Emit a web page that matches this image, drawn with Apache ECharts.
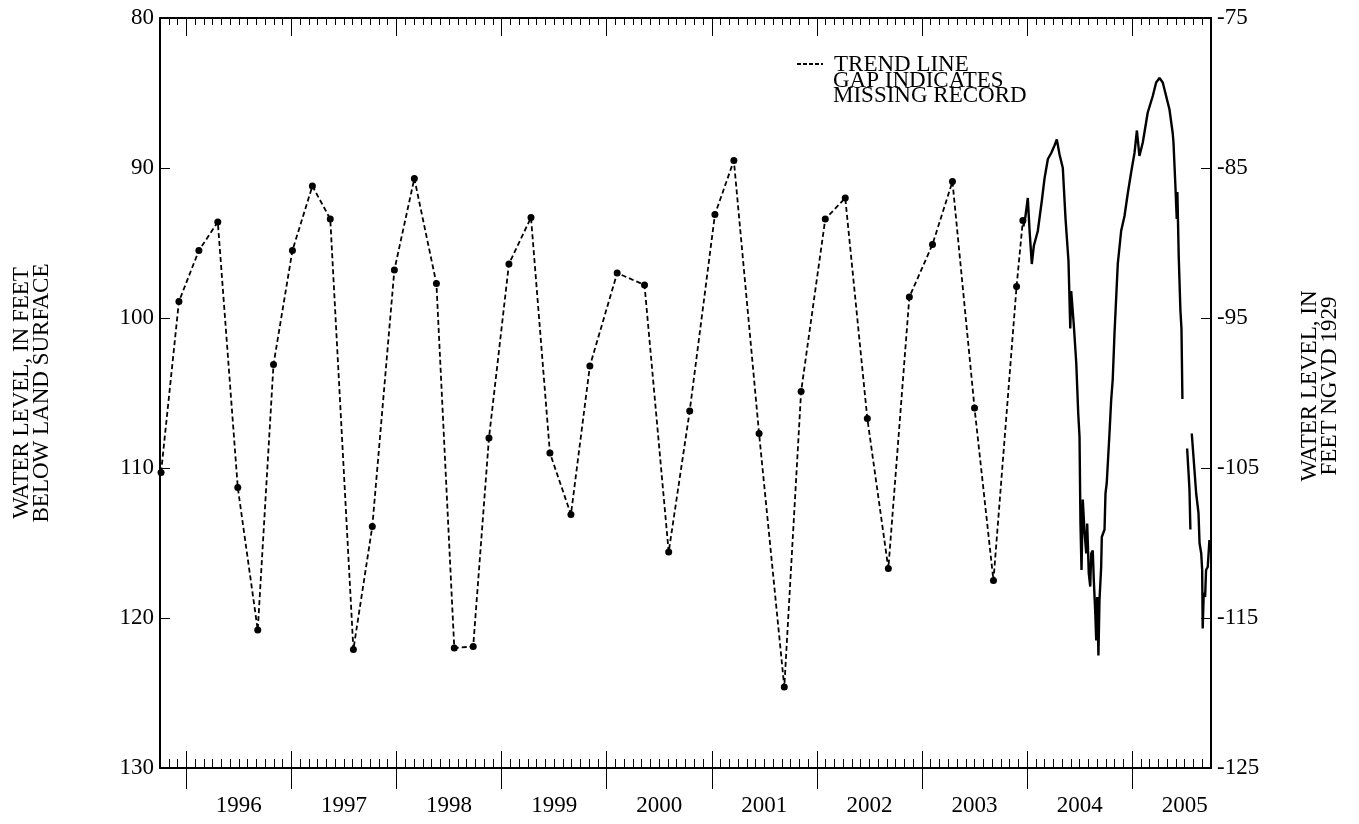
<!DOCTYPE html>
<html>
<head>
<meta charset="utf-8">
<script src="https://cdn.jsdelivr.net/npm/echarts@6/dist/echarts.min.js"></script>
<style>
  html, body { margin: 0; padding: 0; background: #fff; }
  #chart { width: 1359px; height: 824px; }
</style>
</head>
<body>
<div id="chart"></div>
<script>
// Water year span shown on the x axis (decimal years: Oct 1995 - Sep 2005)
const xStart = 1995.75;
const xEnd = 2005.75;

// Calendar-year labels, placed at mid-year
const yearLabels = ['1996', '1997', '1998', '1999', '2000', '2001', '2002', '2003', '2004', '2005'];

// Left axis: depth to water, feet below land surface (inverted)
const depthTicks = [80, 90, 100, 110, 120, 130];
// Right axis: water level, feet NGVD 1929
const elevTicks = [-75, -85, -95, -105, -115, -125];

// Periodic measurements joined by the dashed trend line
const trendYears = [
  1995.76, 1995.93, 1996.12, 1996.30, 1996.49, 1996.68, 1996.83,
  1997.01, 1997.20, 1997.37, 1997.59, 1997.77, 1997.98,
  1998.17, 1998.38, 1998.55, 1998.73, 1998.88,
  1999.07, 1999.28, 1999.46, 1999.66, 1999.84,
  2000.10, 2000.36, 2000.59, 2000.79,
  2001.03, 2001.21, 2001.45, 2001.69, 2001.85,
  2002.08, 2002.27, 2002.48, 2002.68, 2002.88,
  2003.10, 2003.29, 2003.50, 2003.68, 2003.90, 2003.96
];
const trendLevels = [
  110.3, 98.9, 95.5, 93.6, 111.3, 120.8, 103.1,
  95.5, 91.2, 93.4, 122.1, 113.9, 96.8,
  90.7, 97.7, 122.0, 121.9, 108.0,
  96.4, 93.3, 109.0, 113.1, 103.2,
  97.0, 97.8, 115.6, 106.2,
  93.1, 89.5, 107.7, 124.6, 104.9,
  93.4, 92.0, 106.7, 116.7, 98.6,
  95.1, 90.9, 106.0, 117.5, 97.9, 93.5
];

// Continuous record; null marks a gap (missing record)
const recordYears = [
  2003.964, 2003.983, 2004.007, 2004.024, 2004.045, 2004.064, 2004.102, 2004.140,
  2004.166, 2004.198, 2004.230, 2004.261, 2004.283, 2004.309, 2004.340, 2004.366,
  2004.394, 2004.411, 2004.420, 2004.445, 2004.468, 2004.487, 2004.499, 2004.508,
  2004.518, 2004.530, 2004.547, 2004.563, 2004.572, 2004.587, 2004.601, 2004.610,
  2004.625, 2004.635, 2004.648, 2004.658, 2004.667, 2004.679, 2004.689, 2004.705,
  2004.711, 2004.737, 2004.746, 2004.758, 2004.784, 2004.800, 2004.815, 2004.832,
  2004.863, 2004.895, 2004.927, 2004.958, 2004.990, 2005.022, 2005.045, 2005.069,
  2005.101, 2005.148, 2005.196, 2005.228, 2005.260, 2005.275, 2005.291, 2005.323,
  2005.355, 2005.386, 2005.393, 2005.412, 2005.424, 2005.430, 2005.443, 2005.459,
  2005.469, 2005.478,
  2005.500,
  2005.523, 2005.545, 2005.554,
  2005.560,
  2005.567, 2005.586, 2005.609, 2005.631, 2005.641, 2005.657, 2005.666, 2005.671,
  2005.681, 2005.694, 2005.703, 2005.719, 2005.735
];
const recordLevels = [
  93.9, 93.3, 92.0, 94.2, 96.4, 95.2, 94.2, 92.2,
  90.7, 89.4, 89.0, 88.5, 88.1, 89.1, 90.0, 93.4,
  96.2, 100.7, 98.2, 100.5, 103.0, 106.4, 107.9, 113.7,
  116.8, 112.1, 114.3, 115.7, 113.7, 117.0, 117.9, 115.7,
  115.5, 117.5, 119.5, 121.5, 118.6, 122.5, 118.8, 116.6,
  114.6, 114.1, 111.7, 111.0, 107.7, 105.5, 104.1, 101.0,
  96.4, 94.2, 93.2, 91.7, 90.3, 89.0, 87.5, 89.2,
  88.3, 86.3, 85.2, 84.3, 84.0, 84.1, 84.3, 85.2,
  86.1, 87.7, 88.3, 91.3, 93.4, 91.6, 95.9, 99.5,
  100.7, 105.4,
  null,
  108.7, 111.4, 114.1,
  null,
  107.7, 109.5, 111.7, 113.0, 115.0, 115.7, 116.8, 120.7,
  118.3, 118.6, 116.8, 116.6, 114.8
];

const FONT = '"Liberation Serif", "Times New Roman", serif';
const INK = '#000';
const TEXT_SIZE = 23;

// Tick positions: monthly minor ticks, January major ticks, mid-year labels
const monthTicks = [];
for (let k = 0; k <= 120; k++) monthTicks.push(xStart + k / 12);
const yearTicks = yearLabels.map(y => Number(y));
const yearLabelPos = yearLabels.map(y => Number(y) + 0.5);

const trendData = trendYears.map((x, i) => [x, trendLevels[i]]);
const recordData = recordYears.map((x, i) => [x, recordLevels[i] === null ? '-' : recordLevels[i]]);

function xAxisBase(position, extra) {
  return Object.assign({
    type: 'value',
    position: position,
    min: xStart,
    max: xEnd,
    splitLine: { show: false },
    axisLine: { show: false },
    axisLabel: { show: false }
  }, extra);
}

function label(text, x, y, rotated) {
  return {
    type: 'text', x: x, y: y, rotation: rotated ? Math.PI / 2 : 0,
    style: {
      text: text, font: TEXT_SIZE + 'px ' + FONT, fill: INK,
      align: rotated ? 'center' : 'left', verticalAlign: 'middle'
    }
  };
}

const chart = echarts.init(document.getElementById('chart'), null, { renderer: 'canvas' });

chart.setOption({
  backgroundColor: '#fff',
  animation: false,
  textStyle: { fontFamily: FONT, color: INK },
  grid: { left: 160, right: 148, top: 18, bottom: 56, containLabel: false },
  xAxis: [
    xAxisBase('bottom', {
      axisLine: { show: true, lineStyle: { color: INK, width: 2 } },
      axisTick: { show: true, inside: true, length: 9, customValues: monthTicks, lineStyle: { color: INK, width: 1 } },
      axisLabel: {
        show: true,
        customValues: yearLabelPos,
        formatter: v => yearLabels[Math.round(v - 0.5) - 1996],
        margin: 26,
        fontFamily: FONT, fontSize: TEXT_SIZE, color: INK
      }
    }),
    xAxisBase('bottom', {
      axisTick: { show: true, inside: true, length: 17, customValues: yearTicks, lineStyle: { color: INK, width: 1 } }
    }),
    xAxisBase('bottom', {
      axisTick: { show: true, inside: false, length: 21, customValues: yearTicks, lineStyle: { color: INK, width: 1 } }
    }),
    xAxisBase('top', {
      axisLine: { show: true, lineStyle: { color: INK, width: 2 } },
      axisTick: { show: true, inside: true, length: 7, customValues: monthTicks, lineStyle: { color: INK, width: 1 } }
    }),
    xAxisBase('top', {
      axisTick: { show: true, inside: true, length: 18, customValues: yearTicks, lineStyle: { color: INK, width: 1 } }
    })
  ],
  yAxis: [
    {
      type: 'value',
      position: 'left',
      inverse: true,
      min: 80,
      max: 130,
      splitLine: { show: false },
      axisLine: { show: true, lineStyle: { color: INK, width: 2 } },
      axisTick: { show: true, inside: true, length: 10, customValues: depthTicks, lineStyle: { color: INK, width: 1 } },
      axisLabel: { customValues: depthTicks, margin: 6, fontFamily: FONT, fontSize: TEXT_SIZE, color: INK }
    },
    {
      type: 'value',
      position: 'right',
      min: -125,
      max: -75,
      splitLine: { show: false },
      axisLine: { show: true, lineStyle: { color: INK, width: 2 } },
      axisTick: { show: true, inside: true, length: 10, customValues: elevTicks, lineStyle: { color: INK, width: 1 } },
      axisLabel: { customValues: elevTicks, margin: 6, fontFamily: FONT, fontSize: TEXT_SIZE, color: INK }
    }
  ],
  series: [
    {
      name: 'TREND LINE',
      type: 'line',
      xAxisIndex: 0,
      yAxisIndex: 0,
      data: trendData,
      symbol: 'circle',
      symbolSize: 7,
      itemStyle: { color: INK },
      lineStyle: { color: INK, width: 1.8, type: [5, 3] },
      z: 3
    },
    {
      name: 'RECORD',
      type: 'line',
      xAxisIndex: 0,
      yAxisIndex: 0,
      data: recordData,
      connectNulls: false,
      showSymbol: false,
      symbol: 'none',
      lineStyle: { color: INK, width: 2.4 },
      z: 4
    }
  ],
  graphic: [
    // Key
    {
      type: 'line',
      shape: { x1: 797, y1: 64, x2: 823, y2: 64 },
      style: { stroke: INK, lineWidth: 2.2, lineDash: [4, 2] }
    },
    label('TREND LINE', 834, 65, false),
    label('GAP INDICATES', 833, 81, false),
    label('MISSING RECORD', 833, 96, false),
    // Axis titles
    label('WATER LEVEL, IN FEET', 22, 393, true),
    label('BELOW LAND SURFACE', 42, 393, true),
    label('WATER LEVEL, IN', 1310, 386, true),
    label('FEET NGVD 1929', 1330, 386, true)
  ]
});
</script>
</body>
</html>
